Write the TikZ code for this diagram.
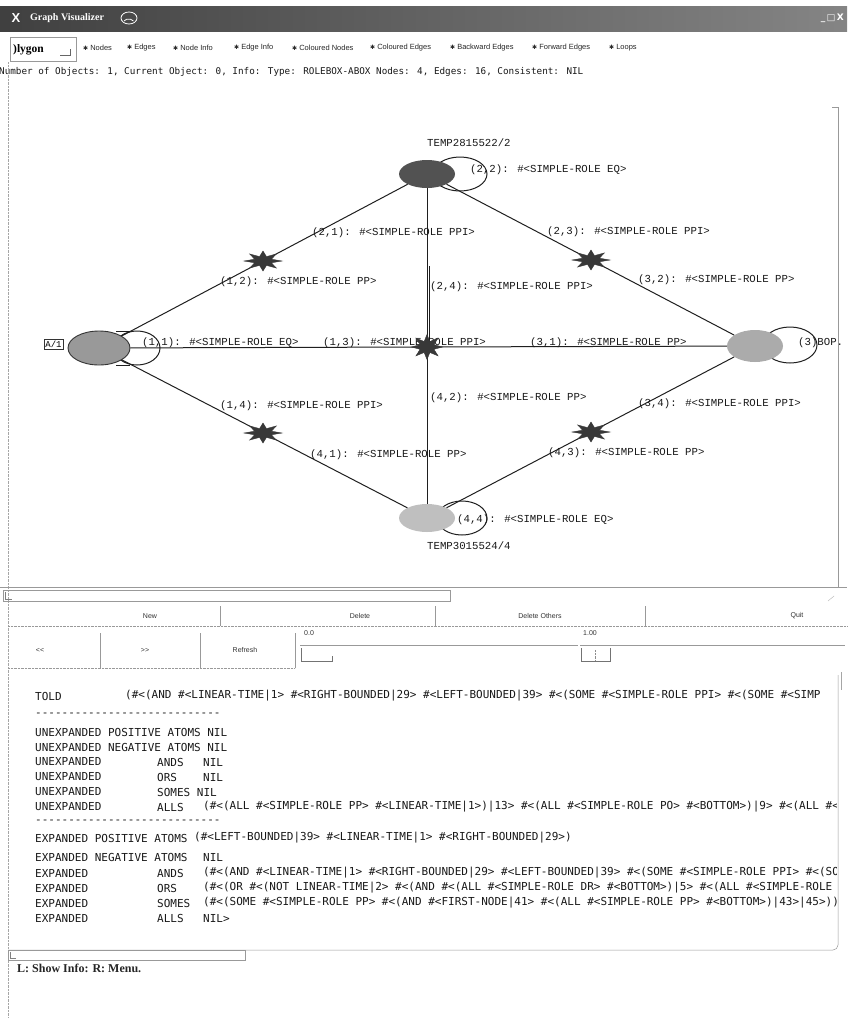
\documentclass[tikz,border=0pt]{standalone}
\usepackage{fontspec}
\setmainfont{Liberation Serif}
\newfontfamily\gmono{Liberation Mono}
\newfontfamily\dmono{DejaVu Sans Mono}
\newfontfamily\lsans{Liberation Sans}
\newfontfamily\dsans{DejaVu Sans}
\usetikzlibrary{shapes.geometric,calc}
\newcommand\dashrow{\foreach \i in {1,...,28}{-\kern0pt}}
\begin{document}
\begin{tikzpicture}[x=1pt,y=-1pt,
  lbl/.style={font=\gmono\fontsize{10.7}{12}\selectfont, text=black!90, anchor=west, inner sep=0},
  gnode/.style={ellipse, inner sep=0},
  gstar/.style={star, star points=8, star point ratio=2.1, minimum size=20pt, inner sep=0, fill=black!78, draw=black!78, xscale=1.9},
  edge/.style={draw=black!88, line width=1},
  loopl/.style={draw=black!88, line width=1},
  ptxt/.style={font=\dmono\fontsize{11}{13}\selectfont, text=black!90, anchor=west, inner sep=0},
  btn/.style={font=\lsans\fontsize{7}{8}\selectfont, text=black!80, inner sep=0},
  chk/.style={font=\lsans\fontsize{7.5}{8}\selectfont, text=black!85, anchor=west, inner sep=0},
  frame/.style={draw=black!40, line width=0.5},
]
\useasboundingbox (0,0) rectangle (847,1018);
\fill[white] (0,0) rectangle (847,1018);

% ---------- title bar ----------
\shade[left color=black!75, right color=black!48] (0,6) rectangle (847,31);
\node[font=\lsans\bfseries\fontsize{13}{14}\selectfont, text=white] (xlogo) at (16,18) {X};
\node[font=\bfseries\fontsize{10}{12}\selectfont, text=white, anchor=west, inner sep=0] (title) at (30,18) {Graph Visualizer};
\draw[white, line width=0.8] (129,18) ellipse [x radius=8, y radius=6];
\draw[white, line width=0.8] (124,21) arc[start angle=200, end angle=340, x radius=5, y radius=3];
\node[font=\dsans\bfseries\fontsize{9}{10}\selectfont, text=white, anchor=east, inner sep=0] (winbtn) at (844,18) {\_\,□\,X};

% ---------- toolbar ----------
\draw[frame] (10,37) rectangle (76,61);
\node[font=\bfseries\fontsize{11.5}{12}\selectfont, anchor=west, inner sep=0] (poly) at (13,50) {)lygon};
\draw[black!60] (60,55) -- (70,55) -- (70,49);
\foreach \x/\t [count=\k] in {83/Nodes, 127/Edges, 173/Node Info, 234/Edge Info, 292/Coloured Nodes, 370/Coloured Edges, 450/Backward Edges, 532/Forward Edges, 609/Loops}{
  \node[chk] (cb\k) at (\x,48) {{\dsans\fontsize{6}{7}\selectfont ✱}\ \t};
}
\node[font=\dmono\fontsize{9.3}{11}\selectfont, text=black!90, anchor=west, inner sep=0] (info) at (-1,72)
  {Number of Objects: 1, Current Object: 0, Info: Type: ROLEBOX-ABOX Nodes: 4, Edges: 16, Consistent: NIL};

% ---------- graph pane frame ----------
\draw[black!35, densely dotted] (8,62) -- (8,1018);
\draw[frame] (832,107) -- (838,107) -- (838,588);
\draw[frame] (0,587) -- (847,587);
\draw[frame] (3,590) rectangle (450,601);
\draw[black!50] (5,592) -- (5,599) -- (12,599);
\draw[black!30] (828,601) -- (834,596);

% ---------- graph ----------
% loops
\draw[loopl] (460,174) ellipse [x radius=27, y radius=17];
\draw[loopl] (137,348) ellipse [x radius=23, y radius=17];
\draw[loopl] (116,331) -- (130,331);
\draw[loopl] (116,365) -- (130,365);
\draw[loopl] (790,345) ellipse [x radius=27, y radius=18];
\draw[loopl] (462,518) ellipse [x radius=25, y radius=17];
% nodes
\node[gnode, fill=black!68, minimum width=56pt, minimum height=28pt] (T) at (427,174) {};
\node[gnode, fill=black!40, draw=black!80, line width=0.9, minimum width=62pt, minimum height=34pt] (L) at (99,348) {};
\node[gnode, fill=black!33, minimum width=56pt, minimum height=32pt] (R) at (755,346) {};
\node[gnode, fill=black!25, minimum width=56pt, minimum height=28pt] (B) at (427,518) {};
\node[draw=black!80, font=\gmono\fontsize{9}{10}\selectfont, inner sep=1.5pt] (a1) at (53.5,344) {A/1};
% edges
\draw[edge] (T) -- (L);
\draw[edge] (T) -- (R);
\draw[edge] (L) -- (B);
\draw[edge] (R) -- (B);
\draw[edge] (L) -- (R);
\draw[edge] (T) -- (B);
\coordinate (v1) at (429.5,266);
\coordinate (v2) at (429.5,347);
\draw[edge] (v1) -- (v2);
% labels
\node[lbl] (tT) at (427,143) {TEMP2815522/2};
\node[lbl] (e22) at (470,170) {(2,2): \#<SIMPLE-ROLE EQ>};
\node[lbl] (e21) at (312,233) {(2,1): \#<SIMPLE-ROLE PPI>};
\node[lbl] (e12) at (220,282) {(1,2): \#<SIMPLE-ROLE PP>};
\node[lbl] (e23) at (547,232) {(2,3): \#<SIMPLE-ROLE PPI>};
\node[lbl] (e32) at (638,280) {(3,2): \#<SIMPLE-ROLE PP>};
\node[lbl] (e24) at (430,287) {(2,4): \#<SIMPLE-ROLE PPI>};
\node[lbl] (e11) at (142,343) {(1,1): \#<SIMPLE-ROLE EQ>};
\node[lbl] (e13) at (323,343) {(1,3): \#<SIMPLE-ROLE PPI>};
\node[lbl] (e31) at (530,343) {(3,1): \#<SIMPLE-ROLE PP>};
\node[lbl] (e33) at (798,343) {(3)BOP.};
\node[lbl] (e42) at (430,398) {(4,2): \#<SIMPLE-ROLE PP>};
\node[lbl] (e34) at (638,404) {(3,4): \#<SIMPLE-ROLE PPI>};
\node[lbl] (e14) at (220,406) {(1,4): \#<SIMPLE-ROLE PPI>};
\node[lbl] (e41) at (310,455) {(4,1): \#<SIMPLE-ROLE PP>};
\node[lbl] (e43) at (548,453) {(4,3): \#<SIMPLE-ROLE PP>};
\node[lbl] (e44) at (457,520) {(4,4): \#<SIMPLE-ROLE EQ>};
\node[lbl] (tB) at (427,546) {TEMP3015524/4};
% stars
\node[gstar] (sTL) at ($(T)!0.5!(L)$) {};
\node[gstar] (sTR) at ($(T)!0.5!(R)$) {};
\node[gstar] (sBL) at ($(B)!0.5!(L)$) {};
\node[gstar] (sBR) at ($(B)!0.5!(R)$) {};
\node[gstar, minimum size=25pt, xscale=1.25/1.9] (sC) at ($(L)!0.5!(R)$) {};

% ---------- buttons ----------
\draw[black!40, densely dotted] (8,626) -- (847,626);
\draw[frame] (220,606) -- (220,626);
\draw[frame] (435,606) -- (435,626);
\draw[frame] (645,606) -- (645,626);
\node[btn] (bNew) at (150,616) {New};
\node[btn] (bDel) at (360,616) {Delete};
\node[btn] (bDelO) at (540,616) {Delete Others};
\node[btn] (bQuit) at (797,616) {Quit};
\draw[frame] (100,633) -- (100,668);
\draw[frame] (200,633) -- (200,668);
\draw[frame] (295,633) -- (295,668);
\draw[black!40, densely dotted] (8,668) -- (295,668);
\node[btn] (bPrev) at (40,650) {<\kern0pt<};
\node[btn] (bNext) at (145,650) {>\kern0pt>};
\node[btn] (bRef) at (245,650) {Refresh};
\node[btn, anchor=west] (s0) at (304,633) {0.0};
\draw[frame] (300,645) -- (578,645);
\draw[black!55] (301,648) -- (301,661) -- (332,661) -- (332,656);
\node[btn, anchor=west] (s1) at (583,633) {1.00};
\draw[frame] (580,645) -- (845,645);
\draw[black!55] (581,648) -- (581,661) -- (610,661) -- (610,648);
\draw[black!45, densely dotted] (595,650) -- (595,660);

% ---------- text panel ----------
\draw[frame, rounded corners=5pt] (8,950) -- (838,950) -- (838,675);
\draw[black!35] (841,672) -- (841,690);
\draw[frame] (8,950) rectangle (245,960);
\draw[black!50] (10,952) -- (10,958) -- (16,958);
\begin{scope}
\clip (9,680) rectangle (836,945);
\node[ptxt] (r0a) at (35,696) {TOLD};
\node[ptxt] (r0b) at (125,696) {(\#<(AND \#<LINEAR-TIME|1> \#<RIGHT-BOUNDED|29> \#<LEFT-BOUNDED|39> \#<(SOME \#<SIMPLE-ROLE PPI> \#<(SOME \#<SIMP};
\node[ptxt] (r1) at (35,715) {\dashrow};
\node[ptxt] (r2) at (35,732) {UNEXPANDED POSITIVE ATOMS NIL};
\node[ptxt] (r3) at (35,747) {UNEXPANDED NEGATIVE ATOMS NIL};
\node[ptxt] (r4a) at (35,762) {UNEXPANDED};
\node[ptxt] (r4b) at (157,762) {ANDS};
\node[ptxt] (r4c) at (203,762) {NIL};
\node[ptxt] (r5a) at (35,777) {UNEXPANDED};
\node[ptxt] (r5b) at (157,777) {ORS};
\node[ptxt] (r5c) at (203,777) {NIL};
\node[ptxt] (r6a) at (35,792) {UNEXPANDED};
\node[ptxt] (r6b) at (157,792) {SOMES NIL};
\node[ptxt] (r7a) at (35,807) {UNEXPANDED};
\node[ptxt] (r7b) at (157,807) {ALLS};
\node[ptxt] (r7c) at (203,807) {(\#<(ALL \#<SIMPLE-ROLE PP> \#<LINEAR-TIME|1>)|13> \#<(ALL \#<SIMPLE-ROLE PO> \#<BOTTOM>)|9> \#<(ALL \#<};
\node[ptxt] (r8) at (35,822) {\dashrow};
\node[ptxt] (r9a) at (35,838) {EXPANDED POSITIVE ATOMS};
\node[ptxt] (r9b) at (194,838) {(\#<LEFT-BOUNDED|39> \#<LINEAR-TIME|1> \#<RIGHT-BOUNDED|29>)};
\node[ptxt] (r10a) at (35,857) {EXPANDED NEGATIVE ATOMS};
\node[ptxt] (r10b) at (203,857) {NIL};
\node[ptxt] (r11a) at (35,873) {EXPANDED};
\node[ptxt] (r11b) at (157,873) {ANDS};
\node[ptxt] (r11c) at (203,873) {(\#<(AND \#<LINEAR-TIME|1> \#<RIGHT-BOUNDED|29> \#<LEFT-BOUNDED|39> \#<(SOME \#<SIMPLE-ROLE PPI> \#<(SO};
\node[ptxt] (r12a) at (35,888) {EXPANDED};
\node[ptxt] (r12b) at (157,888) {ORS};
\node[ptxt] (r12c) at (203,888) {(\#<(OR \#<(NOT LINEAR-TIME|2> \#<(AND \#<(ALL \#<SIMPLE-ROLE DR> \#<BOTTOM>)|5> \#<(ALL \#<SIMPLE-ROLE};
\node[ptxt] (r13a) at (35,903) {EXPANDED};
\node[ptxt] (r13b) at (157,903) {SOMES};
\node[ptxt] (r13c) at (203,903) {(\#<(SOME \#<SIMPLE-ROLE PP> \#<(AND \#<FIRST-NODE|41> \#<(ALL \#<SIMPLE-ROLE PP> \#<BOTTOM>)|43>|45>))};
\node[ptxt] (r14a) at (35,918) {EXPANDED};
\node[ptxt] (r14b) at (157,918) {ALLS};
\node[ptxt] (r14c) at (203,918) {NIL>};
\end{scope}

\node[font=\bfseries\fontsize{12}{14}\selectfont, text=black!85, anchor=west, inner sep=0] (status) at (17,968) {L: Show Info: R: Menu.};
\end{tikzpicture}
\end{document}
